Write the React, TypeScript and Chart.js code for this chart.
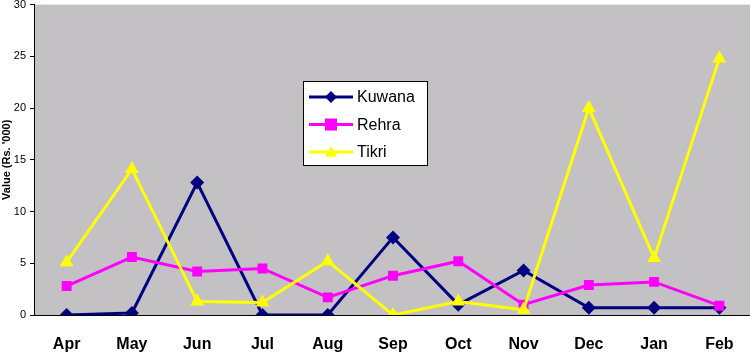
import React, { useEffect, useRef } from 'react';
import { Chart, registerables } from 'chart.js';

Chart.register(...registerables);

const months = ['Apr', 'May', 'Jun', 'Jul', 'Aug', 'Sep', 'Oct', 'Nov', 'Dec', 'Jan', 'Feb'];
const kuwana = [0, 0.2, 12.8, 0, 0, 7.5, 1.0, 4.3, 0.7, 0.7, 0.7];
const rehra = [2.8, 5.6, 4.2, 4.5, 1.7, 3.8, 5.2, 1.0, 2.9, 3.2, 0.9];
const tikri = [5.1, 14.1, 1.3, 1.2, 5.2, 0, 1.3, 0.5, 20, 5.5, 24.8];
const yMin = 0;
const yMax = 30;
const yStep = 5;
const yTitle = "Value (Rs. '000)";

const FONT = '"Liberation Sans", Arial, sans-serif';

function drawMarker(ctx: CanvasRenderingContext2D, style: string, x: number, y: number, r: number, color: string) {
  ctx.save();
  ctx.fillStyle = color;
  ctx.beginPath();
  if (style === 'rectRot') {
    ctx.moveTo(x, y - r);
    ctx.lineTo(x + r, y);
    ctx.lineTo(x, y + r);
    ctx.lineTo(x - r, y);
  } else if (style === 'rect') {
    ctx.rect(x - r, y - r, 2 * r, 2 * r);
  } else {
    ctx.moveTo(x, y - r);
    ctx.lineTo(x + r, y + r * 0.8);
    ctx.lineTo(x - r, y + r * 0.8);
  }
  ctx.closePath();
  ctx.fill();
  ctx.restore();
}

const legendPlugin = {
  id: 'boxLegend',
  afterDraw(chart: any) {
    const ctx = chart.ctx as CanvasRenderingContext2D;
    const x0 = 303, y0 = 81 + 6, w = 124, h = 84;
    ctx.save();
    ctx.fillStyle = '#FFFFFF';
    ctx.fillRect(x0, y0, w, h);
    ctx.strokeStyle = '#000000';
    ctx.lineWidth = 1;
    ctx.strokeRect(x0 + 0.5, y0 + 0.5, w, h);
    const sets = chart.data.datasets;
    sets.forEach((ds: any, i: number) => {
      const cy = y0 + 16 + i * 27.5;
      ctx.strokeStyle = ds.borderColor;
      ctx.lineWidth = 3;
      ctx.beginPath();
      ctx.moveTo(x0 + 6, cy);
      ctx.lineTo(x0 + 50, cy);
      ctx.stroke();
      drawMarker(ctx, ds.pointStyle, x0 + 28, cy, 6, ds.backgroundColor);
      ctx.fillStyle = '#000000';
      ctx.font = `16px ${FONT}`;
      ctx.textBaseline = 'middle';
      ctx.textAlign = 'left';
      ctx.fillText(ds.label, x0 + 54, cy + 1);
    });
    ctx.restore();
  },
};

const bgPlugin = {
  id: 'plotBg',
  beforeDraw(chart: any) {
    const { ctx, chartArea } = chart;
    ctx.save();
    ctx.fillStyle = '#C3C1C3';
    ctx.fillRect(chartArea.left, chartArea.top, chartArea.right - chartArea.left, chartArea.bottom - chartArea.top);
    ctx.restore();
  },
};

export default function App() {
  const ref = useRef<HTMLCanvasElement>(null);
  useEffect(() => {
    document.body.style.margin = '0';
    const canvas = ref.current!;
    const chart = new Chart(canvas, {
      type: 'line',
      data: {
        labels: months,
        datasets: [
          {
            label: 'Kuwana',
            data: kuwana,
            borderColor: '#000080',
            backgroundColor: '#000080',
            pointStyle: 'rectRot',
            pointRadius: 7,
            borderWidth: 3,
            pointBorderWidth: 0,
            order: 2,
          },
          {
            label: 'Rehra',
            data: rehra,
            borderColor: '#FF00FF',
            backgroundColor: '#FF00FF',
            pointStyle: 'rect',
            pointRadius: 7,
            borderWidth: 3,
            pointBorderWidth: 0,
            order: 1,
          },
          {
            label: 'Tikri',
            data: tikri,
            borderColor: '#FFFF00',
            backgroundColor: '#FFFF00',
            pointStyle: 'triangle',
            pointRadius: 8,
            borderWidth: 3,
            pointBorderWidth: 0,
            order: 0,
          },
        ],
      },
      options: {
        animation: false,
        responsive: false,
        maintainAspectRatio: false,
        layout: { padding: { top: 4, right: 0, left: 0, bottom: 0 } },
        plugins: {
          legend: { display: false },
          tooltip: { enabled: false },
        },
        elements: { line: { tension: 0 } },
        scales: {
          x: {
            offset: true,
            grid: { display: false },
            border: { display: true, color: '#000000', width: 1 },
            ticks: {
              color: '#000000',
              font: { family: FONT, size: 16, weight: 'bold' },
              padding: 12,
              maxRotation: 0,
              autoSkip: false,
            },
            afterFit(scale: any) {
              scale.height = 38;
            },
          },
          y: {
            min: yMin,
            max: yMax,
            grid: { drawOnChartArea: false, drawTicks: true, tickLength: 4, color: '#000000' },
            border: { display: true, color: '#000000', width: 1 },
            ticks: {
              stepSize: yStep,
              color: '#000000',
              font: { family: FONT, size: 11 },
              padding: 4,
            },
            title: {
              display: true,
              text: yTitle,
              color: '#000000',
              font: { family: FONT, size: 11, weight: 'bold' },
              padding: 0,
            },
            afterFit(scale: any) {
              scale.width = 34;
            },
          },
        },
      },
      plugins: [bgPlugin, legendPlugin],
    });
    return () => chart.destroy();
  }, []);
  return (
    <div style={{ width: 750, height: 353, overflow: 'hidden', position: 'relative' }}>
      <canvas
        ref={ref}
        width={760}
        height={359}
        style={{ display: 'block', position: 'absolute', left: 0, top: -6 }}
      />
    </div>
  );
}
